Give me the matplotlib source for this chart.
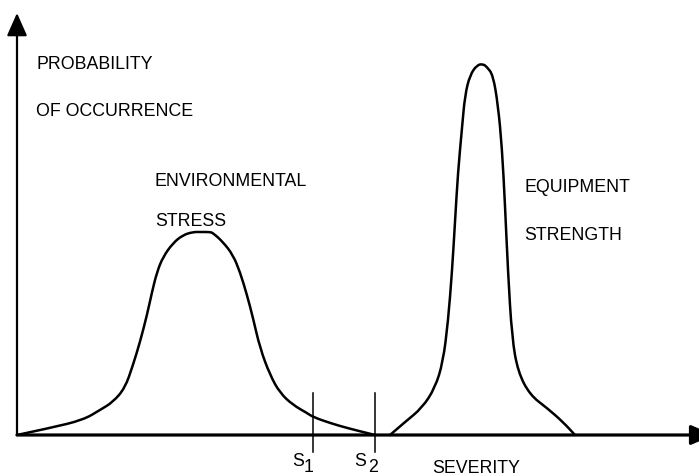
import matplotlib
matplotlib.use("Agg")
import matplotlib.pyplot as plt
from matplotlib.path import Path
from matplotlib.patches import PathPatch

# --- data (severity, probability of occurrence), arbitrary units ---
stress_x = [0, 33, 66, 83, 96, 108, 116, 123, 130, 135, 140, 146, 156, 166, 176, 183,
            193, 196, 206, 216, 223, 230, 236, 243, 253, 263, 276, 290, 296, 313, 330, 358]
stress_y = [0, 7, 15, 25, 33, 47, 70, 93, 120, 143, 163, 178, 192, 200, 203, 203,
            203, 202, 193, 180, 163, 140, 117, 87, 60, 42, 30, 22, 18, 12, 7, 0]

strength_x = [373, 388, 405, 418, 426, 431, 435, 438, 441, 445, 448, 453, 460, 466,
              470, 476, 481, 485, 488, 491, 495, 501, 513, 530, 546, 558]
strength_y = [0, 13, 27, 47, 73, 113, 163, 213, 263, 307, 340, 360, 370, 371,
              368, 360, 330, 287, 230, 163, 97, 63, 40, 27, 13, 0]

s_marks = [296, 358]
s_labels = ["1", "2"]

plt.rcParams['font.family'] = ['Liberation Sans', 'DejaVu Sans']

fig = plt.figure(figsize=(6.99, 4.76), dpi=100)
ax = fig.add_axes([0, 0, 1, 1])
ax.set_xlim(-17, 682)
ax.set_ylim(-41, 435)
ax.axis('off')


def smooth_path(xs, ys):
    """Quadratic B-spline style path through the read points (drawn in data coords)."""
    pts = list(zip(xs, ys))
    verts = [pts[0]]
    codes = [Path.MOVETO]
    for i in range(1, len(pts) - 1):
        mid = ((pts[i][0] + pts[i + 1][0]) / 2, (pts[i][1] + pts[i + 1][1]) / 2)
        verts += [pts[i], mid]
        codes += [Path.CURVE3, Path.CURVE3]
    verts.append(pts[-1])
    codes.append(Path.LINETO)
    return Path(verts, codes)


# axes with arrows
ax.annotate('', xy=(0, 422), xytext=(0, 0),
            arrowprops=dict(arrowstyle='-|>,head_length=1.4,head_width=0.62',
                            lw=1.6, color='black', shrinkA=0, shrinkB=0))
ax.annotate('', xy=(697, 0), xytext=(0, 0),
            arrowprops=dict(arrowstyle='-|>,head_length=1.4,head_width=0.6',
                            lw=2.3, color='black', shrinkA=0, shrinkB=0),
            annotation_clip=False)

# curves
for xs, ys in [(stress_x, stress_y), (strength_x, strength_y)]:
    ax.add_patch(PathPatch(smooth_path(xs, ys), facecolor='none', edgecolor='black',
                           lw=1.8, joinstyle='round', capstyle='round'))

fs = 12.8

# S markers
for sx, lab in zip(s_marks, s_labels):
    ax.plot([sx, sx], [-17, 42], color='black', lw=1.1)
    ax.text(sx - 21, -31, "S", fontsize=fs, ha='left', va='baseline')
    ax.text(sx - 8 + (1 if lab == "2" else -1), -37.5, lab, fontsize=fs,
            ha='left', va='baseline')

ax.text(19, 366, "PROBABILITY", fontsize=fs, ha='left', va='baseline')
ax.text(19, 319, "OF OCCURRENCE", fontsize=fs, ha='left', va='baseline')
ax.text(138, 249, "ENVIRONMENTAL", fontsize=fs, ha='left', va='baseline')
ax.text(138, 209, "STRESS", fontsize=fs, ha='left', va='baseline')
ax.text(507, 242.5, "EQUIPMENT", fontsize=fs, ha='left', va='baseline')
ax.text(507, 194.5, "STRENGTH", fontsize=fs, ha='left', va='baseline')
ax.text(415, -38, "SEVERITY", fontsize=fs, ha='left', va='baseline')

fig.savefig("out.png", dpi=100)
